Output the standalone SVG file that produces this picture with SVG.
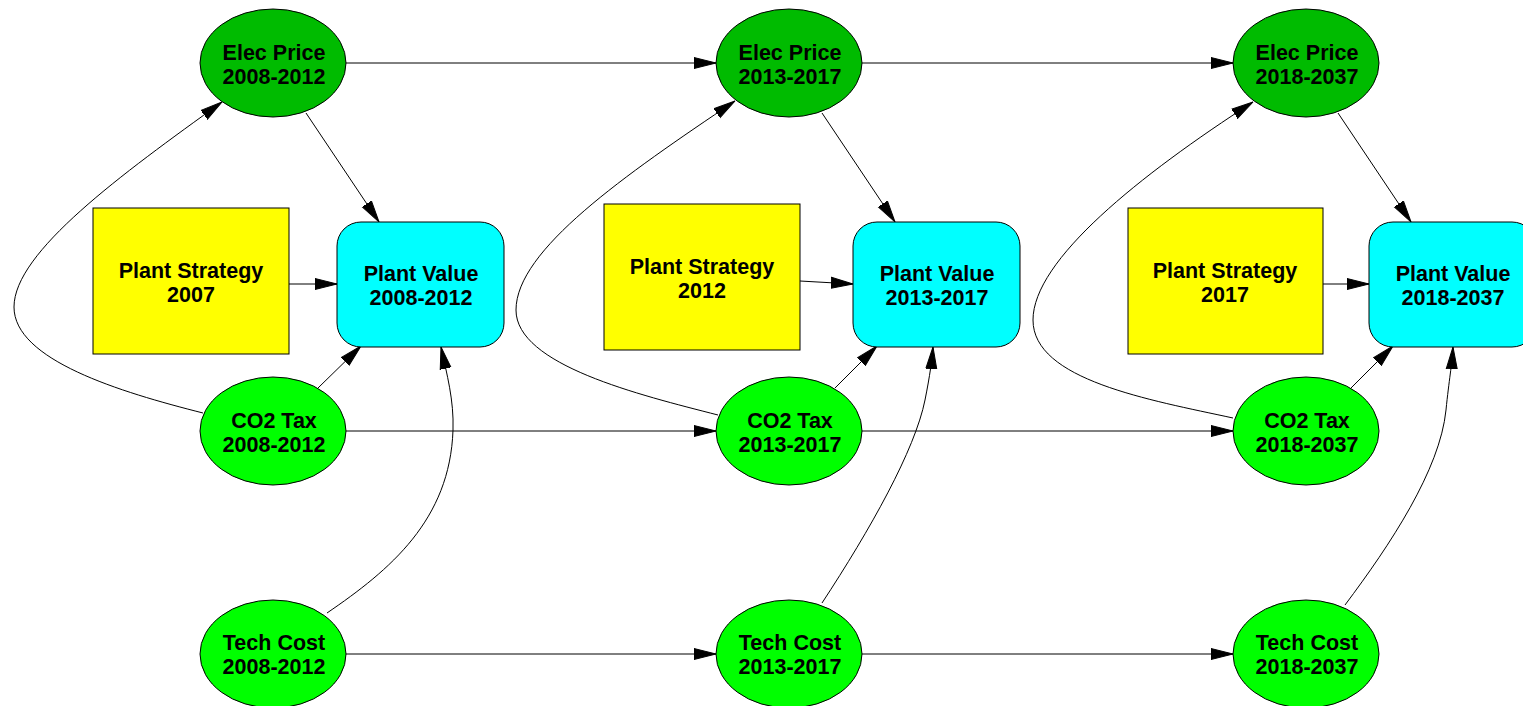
<svg xmlns="http://www.w3.org/2000/svg" width="1523" height="706" viewBox="0 0 1523 706">
<style>
text{font-family:"Liberation Sans",Arial,sans-serif;font-weight:bold;font-size:21.5px;text-anchor:middle;fill:#000}
.elec{fill:#00bb00;stroke:#000;stroke-width:1}
.var{fill:#00ff00;stroke:#000;stroke-width:1}
.strat{fill:#ffff00;stroke:#000;stroke-width:1}
.val{fill:#00ffff;stroke:#000;stroke-width:1}
.e{fill:none;stroke:#000;stroke-width:1;marker-end:url(#arr)}
</style>
<defs>
<marker id="arr" markerUnits="userSpaceOnUse" markerWidth="24" markerHeight="14" refX="22" refY="7" orient="auto">
<path d="M0,1.5 L22,7 L0,12.5 z" fill="#000" stroke="#000" stroke-width="1"/>
</marker>
</defs>
<rect width="1523" height="706" fill="#fff"/>
<g id="connectors">
<path class="e" d="M346,63 L716,63"/>
<path class="e" d="M862,63 L1233,63"/>
<path class="e" d="M346,431 L716,431"/>
<path class="e" d="M862,431 L1233,431"/>
<path class="e" d="M346,654 L716,654"/>
<path class="e" d="M862,654 L1233,654"/>
<path class="e" d="M306,113 L379,222"/>
<path class="e" d="M822,113 L895,222"/>
<path class="e" d="M1338,113 L1411,222"/>
<path class="e" d="M289,284 L337,284"/>
<path class="e" d="M800,281 L853,284"/>
<path class="e" d="M1323,284 L1369,284"/>
<path class="e" d="M318,388 L361,346"/>
<path class="e" d="M835,388 L877,346"/>
<path class="e" d="M1351,388 L1393,346"/>
<path class="e" d="M203,413 C120,392 14,360 14,307 C14,252 122,174 222,102"/>
<path class="e" d="M718,415 C640,395 516,365 516,310 C516,250 625,175 735,101"/>
<path class="e" d="M1233,418 C1150,400 1033,380 1033,320 C1033,260 1140,175 1253,102"/>
<path class="e" d="M327,613 C390,570 450,520 453,430 C454,400 447,375 441,347"/>
<path class="e" d="M822,603 C870,530 915,450 925,400 C930,375 932,360 933,347"/>
<path class="e" d="M1345,605 C1390,545 1440,470 1446,410 C1449,380 1452,365 1453,347"/>
</g>
<g id="elec2008"><ellipse class="elec" cx="273" cy="63" rx="73" ry="54"/><text x="274" y="60">Elec Price</text><text x="274" y="84">2008-2012</text></g>
<g id="elec2013"><ellipse class="elec" cx="789" cy="63" rx="73" ry="54"/><text x="790" y="60">Elec Price</text><text x="790" y="84">2013-2017</text></g>
<g id="elec2018"><ellipse class="elec" cx="1306" cy="63" rx="73" ry="54"/><text x="1307" y="60">Elec Price</text><text x="1307" y="84">2018-2037</text></g>
<g id="strat2007"><rect class="strat" x="93" y="208" width="196" height="146"/><text x="191" y="278">Plant Strategy</text><text x="191" y="302">2007</text></g>
<g id="strat2012"><rect class="strat" x="604" y="204" width="196" height="146"/><text x="702" y="274">Plant Strategy</text><text x="702" y="298">2012</text></g>
<g id="strat2017"><rect class="strat" x="1128" y="208" width="195" height="146"/><text x="1225" y="278">Plant Strategy</text><text x="1225" y="302">2017</text></g>
<g id="val2008"><rect class="val" x="337" y="222" width="167" height="125" rx="24" ry="24"/><text x="421" y="281">Plant Value</text><text x="421" y="305">2008-2012</text></g>
<g id="val2013"><rect class="val" x="853" y="222" width="167" height="125" rx="24" ry="24"/><text x="937" y="281">Plant Value</text><text x="937" y="305">2013-2017</text></g>
<g id="val2018"><rect class="val" x="1369" y="222" width="167" height="125" rx="24" ry="24"/><text x="1453" y="281">Plant Value</text><text x="1453" y="305">2018-2037</text></g>
<g id="co2_2008"><ellipse class="var" cx="273" cy="431" rx="73" ry="54"/><text x="274" y="428">CO2 Tax</text><text x="274" y="452">2008-2012</text></g>
<g id="co2_2013"><ellipse class="var" cx="789" cy="431" rx="73" ry="54"/><text x="790" y="428">CO2 Tax</text><text x="790" y="452">2013-2017</text></g>
<g id="co2_2018"><ellipse class="var" cx="1306" cy="431" rx="73" ry="54"/><text x="1307" y="428">CO2 Tax</text><text x="1307" y="452">2018-2037</text></g>
<g id="tech2008"><ellipse class="var" cx="273" cy="654" rx="73" ry="54"/><text x="274" y="650">Tech Cost</text><text x="274" y="674">2008-2012</text></g>
<g id="tech2013"><ellipse class="var" cx="789" cy="654" rx="73" ry="54"/><text x="790" y="650">Tech Cost</text><text x="790" y="674">2013-2017</text></g>
<g id="tech2018"><ellipse class="var" cx="1306" cy="654" rx="73" ry="54"/><text x="1307" y="650">Tech Cost</text><text x="1307" y="674">2018-2037</text></g>
</svg>
